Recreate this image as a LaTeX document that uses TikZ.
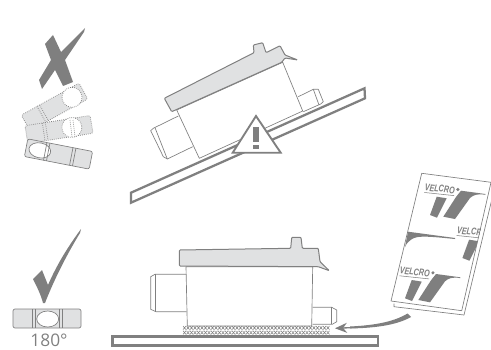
\documentclass[tikz,border=0pt]{standalone}
\usepackage{fontspec}
\setmainfont{Open Sans}
\newfontfamily\logofont{Liberation Sans}
\usetikzlibrary{arrows.meta}

\definecolor{linegray}{HTML}{808080}
\definecolor{markgray}{HTML}{7F7F7F}
\definecolor{platefill}{HTML}{E0E1E2}

\begin{document}
\begin{tikzpicture}[
    x=.75pt, y=-.75pt,
    thinline/.style={draw=linegray, line width=.5pt, line join=round},
    plateline/.style={thinline, fill=platefill, line width=.75pt},
    plank/.style={draw=linegray, fill=white, line width=1.7pt},
    levelbody/.style={thinline, fill=platefill, rounded corners=1.5pt},
    levelbubble/.style={thinline, fill=white},
    ghost/.style={densely dotted, line width=.6pt},
    padmark/.style={draw=linegray, line width=.4pt},
    velcroarrow/.style={-{Stealth[length=9pt, width=7.5pt]}, draw=markgray, line width=1pt},
    logomark/.style={fill=markgray, draw=none},
    logotext/.style={font=\logofont\bfseries\itshape\fontsize{7.3}{8}\selectfont, text=markgray, inner sep=0pt, anchor=base west, rotate=-6, xscale=.74},
    pics/logo/.style={code={
        \fill[logomark] (12.4,13.7) -- (22.4,15.3) -- (12.7,34.7) -- (5.7,32) -- cycle;
        \fill[logomark] (36.7,7.7) -- (61,11) -- (61,11.8) .. controls (53,10.5) and (49,12) .. (45.7,15) -- (30.7,36) -- (19,33.7) -- (31.7,14) -- cycle;
        \fill[logomark] (33.6,6.5) circle (1.7);
        \node[logotext] (-name) at (0,7.5) {\underline{VELCRO}};
    }}
]
    \useasboundingbox (0,0) rectangle (491,349);

    % wrong: cross and tilted levels
    \fill[markgray] (45,44) -- (53,35) -- (61,52) -- (85,28) -- (84,32) -- (65,60) -- (73,82) -- (63,86) -- (55,70) -- (42,89) -- (39,80) -- (51,60) -- cycle;
    \foreach \cx/\cy/\ang/\bub/\mark in {54.5/107/29/20/-13.5, 59/129.5/9/13/-14}{
        \begin{scope}[shift={(\cx,\cy)}, rotate=\ang]
            \draw[levelbody, ghost] (-33,-9) rectangle (33,9);
            \draw[levelbubble, ghost] (\bub,0) circle (10);
            \draw[thinline, ghost] (\mark-1.5,-9) -- (\mark-1.5,9) (\mark+1.5,-9) -- (\mark+1.5,9);
        \end{scope}
    }
    \draw[thinline, ghost] (70,120) -- (72,137) (73,120) -- (75,137);
    \begin{scope}[shift={(58.5,154)}, rotate=-11]
        \draw[levelbody] (-33,-9) rectangle (33,9);
        \draw[levelbubble] (-19,0) ellipse (11 and 7.5);
        \draw[thinline] (-13.5,-9) -- (-13.5,9) (-10.5,-9) -- (-10.5,9) (13,-9) -- (13,9) (16,-9) -- (16,9);
    \end{scope}

    % wrong: tilted unit on the slope
    \draw[plank] (131,192.7) -- (364.5,88.3) -- (365,98.3) -- (131,202.7) -- cycle;
    \draw[thinline, fill=white] (178.3,116) -- (153.3,128.3) -- (150.7,130.7) -- (163.3,156.7) -- (167.3,159) -- (192.7,146.7);
    \draw[thinline] (155,127.7) -- (167.3,159);
    \draw[thinline, fill=white] (298.3,96.7) -- (313.3,89.3) -- (318.3,89.3) -- (323.3,101.7) -- (320.7,104) -- (303.3,111.7);
    \draw[thinline] (313.3,89.3) -- (319,105);
    \draw[thinline, fill=white] (176.7,110) -- (199.3,158.3) -- (302.7,111) -- (282.7,62.3) -- cycle;
    \draw[plateline, rounded corners=.7pt] (164.3,98.3) -- (254,52.7) -- (253.3,45) -- (262.7,42.7) -- (266,52.7) -- (280,45.7) -- (285,55) -- (297.7,60) -- (285,58) -- (281.7,62.3) -- (171.7,111.7) -- cycle;
    \draw[draw=linegray, fill=white, line width=1.4pt, line join=miter] (256,116) -- (280.7,152.7) -- (232.7,152.7) -- cycle;
    \fill[markgray] (253.3,127.3) rectangle (259.3,141.7);
    \fill[markgray] (253.3,145) rectangle (259.3,149);

    % right: check mark and flat level
    \fill[markgray] (33,279) -- (42,270) -- (48,285) .. controls (58,262) and (70,244) .. (81,229) -- (80,233) .. controls (66,256) and (54,280) .. (45,303) -- (43,303) .. controls (41,295) and (37,287) .. cycle;
    \draw[levelbody] (13,309) rectangle (81,328);
    \draw[levelbubble] (47.7,319) ellipse (11 and 8);
    \draw[thinline] (32.5,309) -- (32.5,328) (35.5,309) -- (35.5,328) (59.5,309) -- (59.5,328) (62.5,309) -- (62.5,328);
    \node[text=linegray, font=\fontsize{13}{14}\selectfont, inner sep=0pt] (angle) at (49,340.5) {180°};

    % right: flat unit on velcro
    \draw[plank] (112.5,336.5) rectangle (378,345.5);
    \draw[thinline, fill=white] (186,274.3) -- (155,274.3) -- (150.7,276.7) -- (150.7,309.3) -- (156,311.7) -- (186.7,311.7);
    \draw[thinline] (155,274.3) -- (155,311.7);
    \draw[thinline, fill=white] (312.7,307.3) -- (331.7,307.3) -- (336.7,310) -- (336.7,321.7) -- (332.3,324.3) -- (312.7,324.3);
    \draw[thinline] (331.7,307.3) -- (331.7,324.3);
    \draw[thinline, fill=white] (186,266.7) -- (187.3,326) -- (311.7,326) -- (312.7,266.7) -- cycle;
    \draw[plateline, rounded corners=.7pt] (179.3,250) -- (290.7,248.3) -- (291.7,237.3) -- (301,237.3) -- (302.3,248.3) -- (318.3,248.3) -- (320,261.7) -- (329.3,270.7) -- (318.3,266.7) -- (179.3,266) -- cycle;
    \foreach \x in {183,186.5,...,327}{
        \foreach \y in {326,330.8}{
            \draw[padmark] (\x,\y) -- ++(3,3.6) (\x,\y+3.6) -- ++(3,-3.6);
        }
    }

    % velcro sheet
    \draw[thinline, fill=white] (491.7,200) -- (464,315) -- (394,306.7) -- (394,303.5);
    \draw[thinline, fill=white] (421.7,173.3) -- (491,182.3) -- (461.7,310.7) -- (391,301) -- cycle;
    \begin{scope}
        \clip (421.7,173.3) -- (491,182.3) -- (461.7,310.7) -- (391,301) -- cycle;
        \pic (logotop) at (424.3,183) {logo};
        \pic (logomid) at (456.7,226) {logo};
        \pic (logolow) at (399.3,266.3) {logo};
        \fill[logomark] (408,231.7) -- (455,238) -- (455,239) .. controls (440,237.5) and (430,236.5) .. (423,236.7) .. controls (414,236.5) and (408,240) .. (405,247) -- cycle;
    \end{scope}

    \coordinate (sheettail) at (409,316);
    \coordinate (padend) at (335,328.3);
    \draw[velcroarrow] (sheettail) .. controls (392,325) and (368,327) .. (padend);
    \fill[markgray] (407.5,313.5) .. controls (392,323) and (370,325.5) .. (350,326.5) -- (350,328.5) .. controls (372,328) and (395,326) .. (411,317) -- cycle;
\end{tikzpicture}
\end{document}
